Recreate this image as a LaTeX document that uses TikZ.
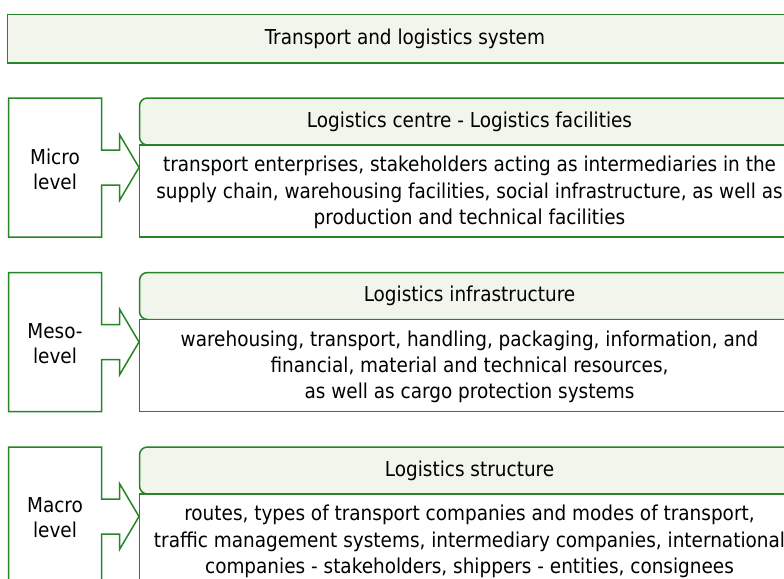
\documentclass[tikz,border=0pt]{standalone}
\usepackage{fontspec}
\setmainfont{DejaVu Sans Condensed}
\definecolor{frame}{RGB}{38,134,38}
\definecolor{pale}{RGB}{242,245,236}
\tikzset{
  outline/.style={draw=frame, line width=1.5pt},
  txt/.style={font=\fontsize{20.5}{26.2}\selectfont, align=center, inner sep=0pt, text=black},
  lvl/.style={font=\fontsize{20.5}{25}\selectfont, align=center, inner sep=0pt, text=black},
}
\newcommand{\levelblock}[4]{%
  % #1 = top edge, #2 = level name, #3 = heading, #4 = description
  \begin{scope}[shift={(0,#1)}]
    % level box with arrow pointing right
    \draw[outline, fill=white] (8.5,0) -- (101.5,0) -- (101.5,52) -- (119.5,52) -- (119.5,36.5)
      -- (139,69.5) -- (119.5,102.5) -- (119.5,87) -- (101.5,87) -- (101.5,139) -- (8.5,139) -- cycle;
    \node[lvl] (lbl#1) at (55,71) {#2};
    % heading strip
    \draw[outline, fill=pale, rounded corners=8pt] (805,0) -- (139.5,0) -- (139.5,47) -- (805,47);
    \node[txt] (head#1) at (469.5,23.5) {#3};
    % description box
    \draw[outline, fill=white] (805,47) -- (139.5,47) -- (139.5,139) -- (805,139);
    \node[txt] (desc#1) at (469.5,94.5) {#4};
  \end{scope}}
\begin{document}
\begin{tikzpicture}[x=1pt,y=-1pt]
  \useasboundingbox (0,0) rectangle (784,578);
  \clip (0,0) rectangle (784,578);
  \fill[white] (0,0) rectangle (784,578);
  % overall system
  \draw[outline, fill=pale] (7.5,14.5) rectangle (806,63);
  \node[txt] (system) at (405,38.5) {Transport and logistics system};
  \levelblock{98}{Micro\\level}{Logistics centre - Logistics facilities}%
    {transport enterprises, stakeholders acting as intermediaries in the\\supply chain, warehousing facilities, social infrastructure, as well as\\production and technical facilities}
  \levelblock{272.5}{Meso-\\level}{Logistics infrastructure}%
    {warehousing, transport, handling, packaging, information, and\\financial, material and technical resources,\\as well as cargo protection systems}
  \levelblock{447}{Macro\\level}{Logistics structure}%
    {routes, types of transport companies and modes of transport,\\traffic management systems, intermediary companies, international\\companies - stakeholders, shippers - entities, consignees}
\end{tikzpicture}
\end{document}
